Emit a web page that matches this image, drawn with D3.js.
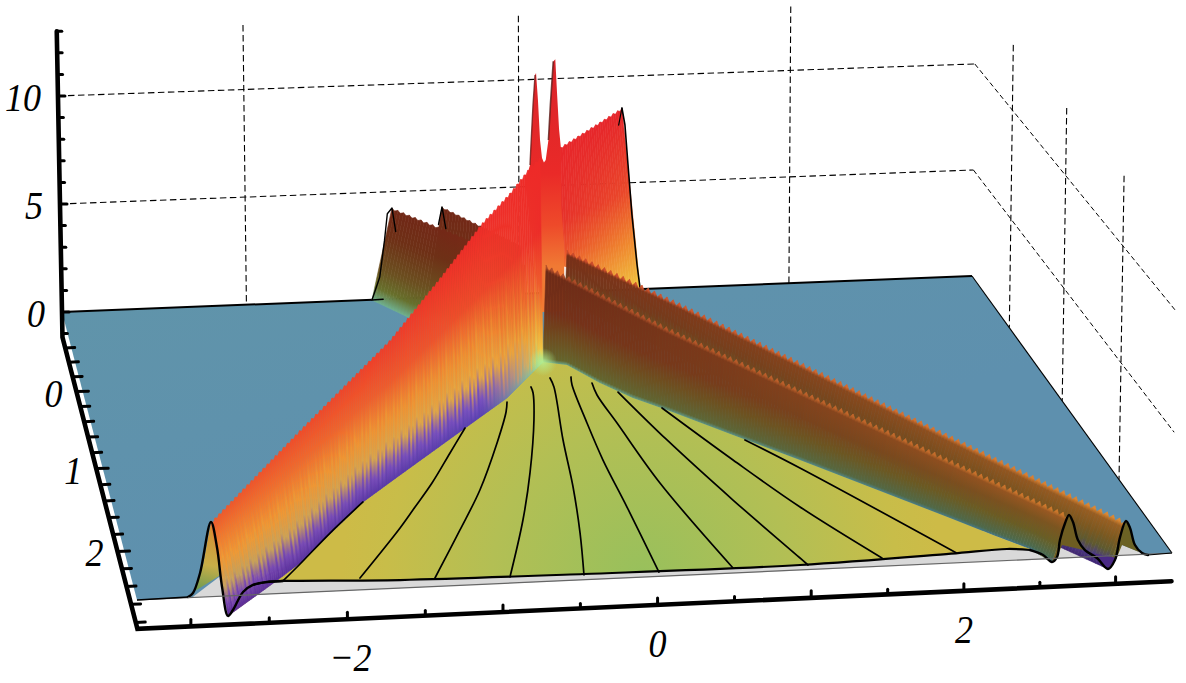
<!DOCTYPE html>
<html>
<head>
<meta charset="utf-8">
<title>Surface plot</title>
<script src="https://d3js.org/d3.v7.min.js"></script>
<style>
  html, body { margin: 0; background: #fff; }
  svg { display: block; }
  text { font-family: "Liberation Serif", serif; font-style: italic; font-size: 36px; fill: #000; }
</style>
</head>
<body>
<svg width="1186" height="683"></svg>
<script>
// axis ranges and tick labels
var xDomain = [-3.34, 3.37];
var tDomain = [-0.75, 2.87];
var zRange = [-1.17, 13];
var xTicks = d3.range(-3, 3.01, 0.5);
var tTicks = d3.range(-0.6, 2.81, 0.2);
var zTicks = d3.range(-1, 14);
var xLabels = [-2, 0, 2];
var tLabels = [0, 1, 2];
var zLabels = [0, 5, 10];
var zGrid = [5, 10];

// black curves on the floor of the surface, [x, t]
var contours = [
  [[-2.385,2.734],[-2.241,2.554],[-1.980,2.218],[-1.692,1.873]],
  [[-1.891,2.740],[-1.515,2.196],[-1.364,1.959],[-1.189,1.683],[-0.986,1.327],[-0.813,1.024]],
  [[-1.416,2.777],[-1.132,2.249],[-0.892,1.791],[-0.641,1.228],[-0.485,0.842],[-0.447,0.714]],
  [[-0.938,2.803],[-0.696,2.166],[-0.511,1.613],[-0.320,0.959],[-0.239,0.612],[-0.234,0.532]],
  [[-0.463,2.818],[-0.364,2.345],[-0.269,1.804],[-0.187,1.226],[-0.075,0.545],[-0.072,0.424]],
  [[0.022,2.823],[0.022,2.068],[0.016,1.494],[0.031,1.025],[0.057,0.528],[0.077,0.422]],
  [[0.506,2.815],[0.318,1.801],[0.235,1.042],[0.195,0.672],[0.202,0.513]],
  [[0.994,2.820],[0.968,2.738],[0.740,2.041],[0.514,1.281],[0.350,0.645]],
  [[1.492,2.779],[1.154,2.157],[0.885,1.562],[0.595,0.875]],
  [[1.987,2.758],[1.301,1.694],[1.040,1.322]]
];

// outlines of the floor, [x, t]
var floorRight = [[-0.067,0.207],[0.091,0.261],[0.257,0.517],[0.432,0.730],[0.622,0.903],[0.978,1.254],[1.332,1.597],[2.089,2.361],[2.297,2.577],[2.477,2.754],[2.562,2.909]];
var floorLeft = [[-2.799,3.087],[-2.438,2.741],[-2.239,2.543],[-1.692,1.873],[-1.380,1.570],[-0.813,1.024],[-0.435,0.662],[-0.067,0.207]];
var floorFront = [[2.562,2.909],[2.535,2.827],[2.472,2.765],[2.329,2.742],[1.951,2.766],[0.943,2.816],[-0.460,2.807],[-1.642,2.782],[-2.385,2.734],[-2.488,2.737],[-2.583,2.763],[-2.659,2.835],[-2.757,3.026],[-2.799,3.087]];
var underside = [[-2.990,2.870],[-2.782,2.658],[-2.512,2.623],[2.364,2.524],[3.086,2.755],[3.201,2.880]];

// ridge tops, [x, t, z], and their feet, [x, t]
var ridgeLeftTop = [[-2.865,2.876,3.05],[-2.162,2.174,4.2],[-1.409,1.419,5.3],[-0.972,0.989,6.5],[-0.578,0.580,7.6],[-0.330,0.339,8.1],[-0.162,0.174,8.6],[-0.067,0.134,9]];
var ridgeNearTop = [[0.002,0.027,3.8],[0.669,0.732,3.1],[2.687,2.866,1.75]];
var ridgeFarTop = [[0.148,0.045,4.5],[0.799,0.597,3.7],[3.063,2.867,1.4]];
var ridgeFarFoot = [[0.309,-0.637],[2.687,2.759],[2.889,3.014]];
var backLeftTop = [[-0.928,-0.762,4.2],[-0.463,-0.310,4],[-0.131,-0.046,3.6]];
var backLeftFoot = [[-1.083,-0.746],[-0.865,-0.470],[-0.135,-0.032]];
var backMidTop = [[-0.637,-0.428,5.2],[-0.126,-0.210,4]];
var backMidFoot = [[-0.751,-0.490],[-0.100,-0.030]];
var backRightTop = [[0.093,-0.043,8.8],[0.769,-0.789,8.4]];
var backRightFoot = [[0.404,-1.147],[0.898,-0.766]];
var backRightEdge = [[0.769,-0.789,8.4],[0.782,-0.755,7.7],[0.807,-0.762,5.8],[0.832,-0.746,3.5],[0.883,-0.792,1],[0.898,-0.766,0]];

// the two central spikes, [x, t, z]
var spikes = [[-0.130,-0.041,7.4],[-0.097,-0.030,8.2],[-0.089,-0.033,9.1],[-0.072,-0.040,10.9],[-0.060,-0.028,12.3],[-0.054,-0.024,12.4],[-0.035,-0.047,11.1],[-0.023,-0.038,9.3],[-0.011,-0.030,8.5],[0.002,-0.028,8.3],[0.016,-0.032,8.4],[0.036,-0.034,9.3],[0.050,-0.032,10.9],[0.069,-0.024,12.9],[0.083,-0.022,13],[0.096,-0.024,11.4],[0.110,-0.026,9.8],[0.123,-0.030,9],[0.125,-0.026,6.3],[0.145,-0.022,4.5],[0.145,-0.022,1.5],[-0.018,-0.026,1.5]];
var spikeShadeA = [[-0.060,-0.028,12.3],[-0.072,-0.040,10.9],[-0.089,-0.033,9.1],[-0.097,-0.030,8.2]];
var spikeShadeB = [[0.069,-0.024,12.9],[0.050,-0.032,10.9],[0.036,-0.034,9.3]];

// pieces at the front edge, [x, t, z]
var nearFlank = [[2.687,2.866,1.75],[2.872,2.470],[2.824,2.677],[2.819,2.792],[2.700,2.725],[2.616,2.856],[2.562,2.909]];
var farFlank = [[3.063,2.867,1.4],[3.215,2.568],[3.169,2.762],[3.163,2.842],[3.086,2.755],[3.000,2.887],[2.889,3.014]];
var purpleGap = [[2.678,2.746],[2.868,2.853],[2.889,3.014],[2.995,2.898]];
var leftFace = [[-2.865,2.876,3.05],[-2.861,2.517],[-2.895,2.604],[-2.960,2.800],[-2.780,2.647],[-2.756,2.468]];

// black profiles
var profileLeft = [[-3.015,2.863],[-2.976,2.821],[-2.895,2.604],[-2.865,2.876,3.05],[-2.738,2.320],[-2.782,2.770],[-2.799,3.087],[-2.757,3.026],[-2.659,2.835],[-2.583,2.763],[-2.488,2.737],[-2.385,2.734]];
var profileRight = [[2.472,2.765],[2.535,2.827],[2.562,2.909],[2.616,2.856],[2.708,2.668],[2.816,2.478],[2.687,2.866,1.75],[2.872,2.470],[2.824,2.677],[2.825,2.793],[2.867,2.888],[2.889,3.014],[2.973,2.919],[3.109,2.665],[3.063,2.867,1.4],[3.215,2.568],[3.169,2.762],[3.178,2.855],[3.207,2.880]];
var profileBackLeft = [[-1.000,-0.750],[-1.083,-0.746],[-1.024,-0.750,1.03],[-0.987,-0.750,2.74],[-0.965,-0.750,3.98],[-0.928,-0.762,4.2],[-0.902,-0.762,3.1]];
var profileBackMid = [[-0.663,-0.428,4.4],[-0.637,-0.428,5.2],[-0.610,-0.428,4.2]];
var profileBackRight = [[0.745,-0.789,7.6],[0.769,-0.789,8.4]];

// colours across each sheet, top of the ridge to its foot, at several places along it
var palLeft = [
  {at: 0, offs: [0, .2, .45, .68, .85, 1], cols: ["#ef5a2a", "#f07a2e", "#f09a34", "#c4a05c", "#7a48b0", "#5a2a95"]},
  {at: .8, offs: [0, .35, .6, .78, .9, 1], cols: ["#ee2c28", "#ee4a2a", "#f08f30", "#e8a840", "#7a50c0", "#5a40b0"]},
  {at: 1, offs: [0, .35, .6, .8, .93, 1], cols: ["#ee2a28", "#ec2c28", "#ee5a2c", "#f2a033", "#f5d040", "#a0e28e"]}
];
var palNear = [
  {at: 0, offs: [0, .04, .45, .7, .96, 1], cols: ["#b04a28", "#6d2a17", "#752f18", "#6f4a1e", "#66652a", "#6aa78a"]},
  {at: 1, offs: [0, .08, .3, .6, .93, 1], cols: ["#d07a2c", "#9a5a22", "#7c5620", "#6a5f24", "#4a6a50", "#3d6f88"]}
];
var palFar = [
  {at: 0, offs: [0, .06, .4, .65, .88, 1], cols: ["#c9482a", "#782f18", "#74341a", "#6f4a1e", "#66652a", "#66652a"]},
  {at: 1, offs: [0, .1, .4, .65, .85, 1], cols: ["#e08a30", "#9a6022", "#7b5a20", "#5d5a30", "#4a3d80", "#3c1f75"]}
];
var palBackLeft = [
  {at: 0, offs: [0, .3, .65, .85, 1], cols: ["#6f2716", "#6e3016", "#6b5020", "#67702c", "#6fb08e"]},
  {at: 1, offs: [0, .3, .65, .85, 1], cols: ["#7c2a18", "#6e3016", "#6b5020", "#67702c", "#6fb08e"]}
];
var palBackRight = [
  {at: 0, offs: [0, .6, .85, 1], cols: ["#e8262a", "#e6302a", "#e8482a", "#f06a2e"]},
  {at: 1, offs: [0, .45, .75, 1], cols: ["#e5252a", "#ea4a2a", "#f0902f", "#f0c840"]}
];
var toothPattern = [0, .03, -.05, .06, -.02, .04, -.06, .01];

var svg = d3.select("svg");
var defs = svg.append("defs");

// perspective frame: the z=0 plane is seen as this quadrilateral
var g = 0.01861, h = -0.12437;
var A = [928.09, -30.86], B = [57.96, 213.38], O = [62, 312];
var aScale = d3.scaleLinear().domain(xDomain).range([0, 1]);
var bScale = d3.scaleLinear().domain(tDomain).range([0, 1]);

function project(x, t, z) {
  z = z || 0;
  var a = aScale(x), b = bScale(t);
  var w = 1 + g * a + h * b;
  var px = (O[0] + A[0] * a + B[0] * b) / w;
  var py = (O[1] + A[1] * a + B[1] * b) / w;
  return [px + z * (px - 600) * 0.00075, py - z * 21.6 / w];
}
function toPx(d) { return project(d[0], d[1], d[2]); }

var lineStraight = d3.line();
var lineSmooth = d3.line().curve(d3.curveCatmullRom);
var gradId = 0;

function linearGrad(p0, p1, stops) {
  var id = "g" + (gradId++);
  var gr = defs.append("linearGradient").attr("id", id)
    .attr("gradientUnits", "userSpaceOnUse")
    .attr("x1", p0[0]).attr("y1", p0[1]).attr("x2", p1[0]).attr("y2", p1[1]);
  stops.forEach(function(s) {
    gr.append("stop").attr("offset", s[0]).attr("stop-color", s[1]);
  });
  return "url(#" + id + ")";
}

// point at fraction s of a polyline's length
function along(pts, s) {
  var lens = [0];
  for (var i = 1; i < pts.length; i++) {
    lens.push(lens[i - 1] + Math.hypot(pts[i][0] - pts[i - 1][0], pts[i][1] - pts[i - 1][1]));
  }
  var target = s * lens[lens.length - 1];
  var k = Math.min(d3.bisectLeft(lens, target), pts.length - 1);
  if (k < 1) k = 1;
  var f = (target - lens[k - 1]) / (lens[k] - lens[k - 1]);
  return [pts[k - 1][0] + f * (pts[k][0] - pts[k - 1][0]), pts[k - 1][1] + f * (pts[k][1] - pts[k - 1][1])];
}

function paletteAt(pal, s) {
  var k = 1;
  while (k < pal.length - 1 && s > pal[k].at) k++;
  var p0 = pal[k - 1], p1 = pal[k];
  var f = Math.max(0, Math.min(1, (s - p0.at) / (p1.at - p0.at)));
  return p0.offs.map(function(o, i) {
    return [o + f * (p1.offs[i] - o), d3.interpolateRgb(p0.cols[i], p1.cols[i])(f)];
  });
}

// a sheet between a ridge top and its foot, drawn as thin slices like the plot's mesh
function sheet(top, foot, pal, n, tooth, jitter, jitFrom) {
  var T = top.map(toPx), F = foot.map(toPx);
  var group = svg.append("g");
  var topP = d3.range(n + 1).map(function(i) {
    var p = along(T, i / n), q = along(F, i / n);
    if (i % 2) {
      var L = Math.hypot(q[0] - p[0], q[1] - p[1]) || 1;
      p = [p[0] + (q[0] - p[0]) / L * tooth, p[1] + (q[1] - p[1]) / L * tooth];
    }
    return p;
  });
  var footP = d3.range(n + 1).map(function(i) { return along(F, i / n); });
  d3.range(n).forEach(function(i) {
    var s = (i + .5) / n;
    var j = toothPattern[i % 8] * jitter;
    var stops = paletteAt(pal, s).map(function(st) {
      var o = st[0] >= jitFrom && st[0] < 1 ? st[0] + j : st[0];
      return [Math.max(0, Math.min(1, o)), st[1]];
    });
    var a0 = [(topP[i][0] + topP[i + 1][0]) / 2, (topP[i][1] + topP[i + 1][1]) / 2];
    var a1 = [(footP[i][0] + footP[i + 1][0]) / 2, (footP[i][1] + footP[i + 1][1]) / 2];
    var fill = linearGrad(a0, a1, stops);
    group.append("path")
      .attr("d", lineStraight([topP[i], topP[i + 1], footP[i + 1], footP[i]]) + "Z")
      .attr("fill", fill).attr("stroke", fill).attr("stroke-width", 0.6);
  });
}

function addPath(pts, attrs, smooth) {
  var p = svg.append("path").attr("d", (smooth ? lineSmooth : lineStraight)(pts));
  Object.keys(attrs).forEach(function(k) { p.attr(k, attrs[k]); });
  return p;
}
function outline(data, width, smooth) {
  return addPath(data.map(toPx), {fill: "none", stroke: "#000", "stroke-width": width, "stroke-linejoin": "round", "stroke-linecap": "round"}, smooth);
}

var x0 = xDomain[0], x1 = xDomain[1], t0 = tDomain[0], t1 = tDomain[1], zTop = zRange[1], zLow = zRange[0];

// dashed grid on the back walls
var dashAttrs = {fill: "none", stroke: "#000", "stroke-width": 1.1, "stroke-dasharray": "6.5,3.5"};
var sideAttrs = {fill: "none", stroke: "#000", "stroke-width": 1, "stroke-dasharray": "5,3"};
zGrid.forEach(function(z) {
  addPath([project(x0, t0, z), project(x1, t0, z)], dashAttrs);
  addPath([project(x1, t0, z), project(x1, t1, z)], sideAttrs);
});
xLabels.forEach(function(x) { addPath([project(x, t0, zTop), project(x, t0, 0)], dashAttrs); });
tLabels.forEach(function(t) { addPath([project(x1, t, zTop), project(x1, t, 0)], dashAttrs); });

// blue plane at z=0
var corners = [project(x0, t0), project(x1, t0), project(x1, t1), project(x0, t1)];
addPath(corners, {
  fill: linearGrad(corners[0], corners[3], [[0, "#6094aa"], [1, "#5e90ae"]])
}).attr("d", lineStraight(corners) + "Z");
addPath([corners[0], corners[1]], {stroke: "#000", "stroke-width": 2, fill: "none"});
addPath([corners[1], corners[2]], {stroke: "#000", "stroke-width": 1.1, fill: "none"});

// light grey underside visible at the front
addPath(underside.map(toPx), {fill: "#d9d9d9"}).attr("d", lineStraight(underside.map(toPx)) + "Z");

// sheets from back to front
sheet(backMidTop, backMidFoot, palBackLeft, 28, 1.5, 0, 1);
outline(profileBackMid, 1.4);
sheet(backLeftTop, backLeftFoot, palBackLeft, 46, 1.8, 0, 1);
outline(profileBackLeft, 1.4);
sheet(backRightTop, backRightFoot, palBackRight, 30, 2, 0, 1);
outline(backRightEdge, 1.6);
outline(profileBackRight, 1.2);

// central spikes
var spikePx = spikes.map(toPx);
addPath(spikePx, {
  fill: linearGrad(project(0.083, -0.022, 13), project(0.138, -0.038, 3.5),
    [[0, "#d8242a"], [.55, "#ea2a28"], [.8, "#ee4a2a"], [1, "#f07a34"]])
}).attr("d", lineStraight(spikePx) + "Z");
addPath(spikeShadeA.map(toPx), {fill: "none", stroke: "#6a1a18", "stroke-width": 1.4, opacity: .8});
addPath(spikeShadeB.map(toPx), {fill: "none", stroke: "#5a1c18", "stroke-width": 1.6, opacity: .8});

sheet(ridgeFarTop, ridgeFarFoot, palFar, 180, 4.5, .5, .3);
addPath(farFlank.map(toPx), {fill: "#6b6224"}).attr("d", lineStraight(farFlank.map(toPx)) + "Z");
addPath(purpleGap.map(toPx), {fill: "#4a2a85"}).attr("d", lineStraight(purpleGap.map(toPx)) + "Z");
sheet(ridgeNearTop, floorRight, palNear, 180, 4.5, 0, 1);
addPath(nearFlank.map(toPx), {fill: "#6e5d22"}).attr("d", lineStraight(nearFlank.map(toPx)) + "Z");

// floor of the surface
var floorPx = floorRight.concat(floorFront).concat(floorLeft).map(toPx);
var centre = project(-0.1, 2.85);
var radial = defs.append("radialGradient").attr("id", "floorFill")
  .attr("gradientUnits", "userSpaceOnUse")
  .attr("cx", centre[0]).attr("cy", centre[1]).attr("r", 300);
[[0, "#98c05c"], [.5, "#b3bf54"], [.85, "#c8bd49"], [1, "#cdbb47"]].forEach(function(s) {
  radial.append("stop").attr("offset", s[0]).attr("stop-color", s[1]);
});
addPath(floorPx, {fill: "url(#floorFill)"}).attr("d", lineStraight(floorPx) + "Z");

// big left sheet
var leftFacePx = leftFace.map(toPx);
addPath(leftFacePx, {
  fill: linearGrad(leftFacePx[0], leftFacePx[3], [[0, "#d68a30"], [.6, "#c8ae48"], [1, "#6a9a50"]])
}).attr("d", lineStraight(leftFacePx) + "Z");
sheet(ridgeLeftTop, floorLeft, palLeft, 170, 2.5, .9, .4);

// glow where the sheets meet
var apex = project(floorLeft[7][0], floorLeft[7][1]);
var glow = defs.append("radialGradient").attr("id", "apexGlow");
glow.append("stop").attr("offset", 0).attr("stop-color", "#b4ee90").attr("stop-opacity", .9);
glow.append("stop").attr("offset", 1).attr("stop-color", "#b4ee90").attr("stop-opacity", 0);
svg.append("circle").attr("cx", apex[0]).attr("cy", apex[1]).attr("r", 14).attr("fill", "url(#apexGlow)");

// curves and profiles
contours.forEach(function(c) { outline(c, 1.7, true); });
outline(floorFront.slice(2, 11), 2.2, true);
outline(profileLeft, 2.4, true);
outline(profileRight, 2.4, true);

// front edge of the plane
addPath([corners[3], corners[2]], {stroke: "#666", "stroke-width": 1.2, fill: "none"});
addPath([corners[3], project(-3.015, 2.863)], {stroke: "#000", "stroke-width": 1.6, fill: "none"});
addPath([project(3.207, 2.880), corners[2]], {stroke: "#000", "stroke-width": 1.2, fill: "none"});

// axes
var axisAttrs = {fill: "none", stroke: "#000", "stroke-width": 4.6, "stroke-linejoin": "miter", "stroke-linecap": "round"};
addPath([project(x0, t0, zTop), project(x0, t0, zLow), project(x0, t1, zLow), project(x1, t1, zLow)], axisAttrs);

var tickAttrs = {fill: "none", stroke: "#000", "stroke-width": 3, "stroke-linecap": "round"};
zTicks.forEach(function(z) {
  var p = project(x0, t0, z);
  addPath([p, [p[0] + (z % 5 ? 5 : 7), p[1]]], tickAttrs);
});
tTicks.forEach(function(t) {
  var p = project(x0, t, zLow);
  var major = Math.abs(t - Math.round(t)) < 0.01;
  addPath([p, [p[0] + (major ? 12 : 9.5), p[1] - 0.4]], tickAttrs);
});
xTicks.forEach(function(x) {
  var p = project(x, t1, zLow);
  addPath([p, [p[0], p[1] - (x % 1 ? 5 : 7)]], tickAttrs);
});

// tick labels, slightly taller than the font's own digits
function labelAt(x, y) { return "translate(" + x + "," + y + ") scale(1,1.13)"; }
svg.selectAll("text.zl").data(zLabels).enter().append("text").attr("class", "zl")
  .attr("text-anchor", "end")
  .attr("transform", function(d) {
    var p = project(x0, t0, d);
    return labelAt(p[0] - 17, p[1] + 15);
  })
  .text(function(d) { return d; });
svg.selectAll("text.tl").data(tLabels).enter().append("text").attr("class", "tl")
  .attr("text-anchor", "middle")
  .attr("transform", function(d) {
    var p = project(x0, d, zLow);
    return labelAt(p[0] - 23, p[1] + 15);
  })
  .text(function(d) { return d; });
svg.selectAll("text.xl").data(xLabels).enter().append("text").attr("class", "xl")
  .attr("text-anchor", "middle")
  .attr("transform", function(d) {
    var p = project(d, t1, zLow);
    return labelAt(p[0] + (d < 0 ? 3 : 0), p[1] + 52);
  })
  .text(function(d) { return d < 0 ? "\u2212" + (-d) : d; });
</script>
</body>
</html>
